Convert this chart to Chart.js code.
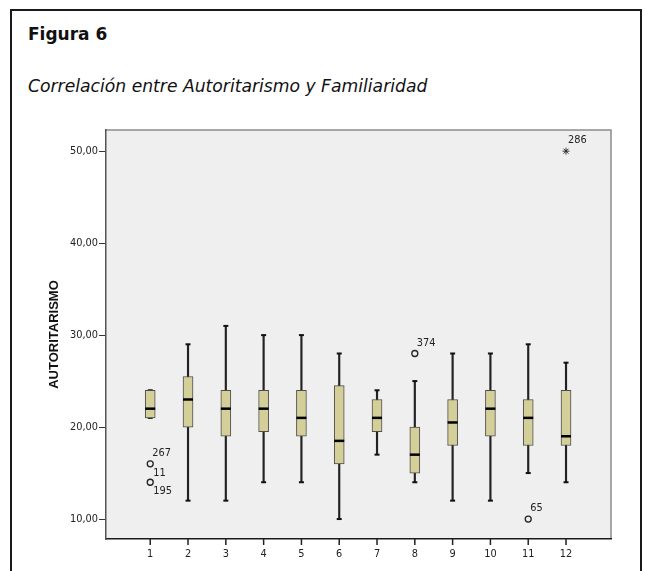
<!DOCTYPE html>
<html lang="es">
<head>
  <meta charset="UTF-8">
  <title>Figura 6</title>
  <script src="https://cdn.jsdelivr.net/npm/chart.js"></script>
  <style>
    body {
      margin: 0;
      width: 645px;
      height: 571px;
      overflow: hidden;
      background: #fff;
      position: relative;
    }
    #frame {
      position: absolute;
      left: 10px;
      top: 9px;
      width: 632px;
      height: 700px;
      box-sizing: border-box;
      border: 2px solid #1a1a1a;
    }
    #fig {
      position: absolute;
      left: 28px;
      top: 26px;
      font: bold 17px "DejaVu Sans", sans-serif;
      line-height: 1;
      color: #111;
    }
    #sub {
      position: absolute;
      left: 28px;
      top: 78px;
      font: italic 17.2px "DejaVu Sans", sans-serif;
      line-height: 1;
      color: #111;
    }
    #wrap {
      position: absolute;
      left: 0;
      top: 0;
      width: 645px;
      height: 571px;
    }
  </style>
</head>
<body>
  <div id="frame"></div>
  <div id="fig">Figura 6</div>
  <div id="sub">Correlación entre Autoritarismo y Familiaridad</div>
  <div id="wrap"><canvas id="box"></canvas></div>

  <script>
    // grupos 1..12 (familiaridad)
    const categories = [1, 2, 3, 4, 5, 6, 7, 8, 9, 10, 11, 12];
    const whiskerLow  = [21, 12, 12, 14, 14, 10, 17, 14, 12, 12, 15, 14];
    const q1          = [21, 20, 19, 19.5, 19, 16, 19.5, 15, 18, 19, 18, 18];
    const medians     = [22, 23, 22, 22, 21, 18.5, 21, 17, 20.5, 22, 21, 19];
    const q3          = [24, 25.5, 24, 24, 24, 24.5, 23, 20, 23, 24, 23, 24];
    const whiskerHigh = [24, 29, 31, 30, 30, 28, 24, 25, 28, 28, 29, 27];

    // atípicos (círculo) y extremos (estrella)
    const outlierX = [1, 1, 8, 11];
    const outlierY = [16, 14, 28, 10];
    const extremeX = [12];
    const extremeY = [50];

    // etiquetas de casos
    const caseX     = [1, 1, 1, 8, 11, 12];
    const caseY     = [16, 16, 14, 28, 10, 50];
    const caseText  = ['267', '11', '195', '374', '65', '286'];
    const caseAbove = [true, false, false, true, true, true];

    const yTicks = [10, 20, 30, 40, 50];

    const tickFont = { family: '"DejaVu Sans", sans-serif', size: 9.8 };

    const pairs = (lo, hi) => categories.map((c, i) => ({ x: c, y: [lo[i], hi[i]] }));
    const pts = (xs, ys) => xs.map((x, i) => ({ x: x, y: ys[i] }));

    const plotBg = {
      id: 'plotBg',
      beforeDraw(chart) {
        const a = chart.chartArea, ctx = chart.ctx;
        ctx.save();
        ctx.fillStyle = '#efefef';
        ctx.fillRect(a.left, a.top, a.right - a.left, a.bottom - a.top);
        ctx.strokeStyle = '#8c8c8c';
        ctx.lineWidth = 1.5;
        ctx.beginPath();
        ctx.moveTo(a.left, a.top);
        ctx.lineTo(a.right, a.top);
        ctx.lineTo(a.right, a.bottom);
        ctx.stroke();
        ctx.restore();
      },
      afterDraw(chart) {
        // marcas del eje X en cada categoría
        const x = chart.scales.x, a = chart.chartArea, ctx = chart.ctx;
        ctx.save();
        ctx.strokeStyle = '#222';
        ctx.lineWidth = 1.5;
        ctx.beginPath();
        categories.forEach(c => {
          const px = x.getPixelForValue(c);
          ctx.moveTo(px, a.bottom);
          ctx.lineTo(px, a.bottom + 6);
        });
        ctx.stroke();
        ctx.restore();
      }
    };

    const caseLabels = {
      id: 'caseLabels',
      afterDatasetsDraw(chart) {
        const x = chart.scales.x, y = chart.scales.y, ctx = chart.ctx;
        ctx.save();
        ctx.font = '9.8px "DejaVu Sans", sans-serif';
        ctx.fillStyle = '#222';
        ctx.textBaseline = 'middle';
        ctx.textAlign = 'left';
        caseText.forEach((t, i) => {
          const px = x.getPixelForValue(caseX[i]);
          const py = y.getPixelForValue(caseY[i]);
          if (caseAbove[i]) ctx.fillText(t, px + 2, py - 10.5);
          else ctx.fillText(t, px + 3, py + 9.5);
        });
        ctx.restore();
      }
    };

    new Chart(document.getElementById('box'), {
      type: 'bar',
      data: {
        datasets: [
          {
            type: 'scatter',
            data: categories.map((c, i) => ({ x: c, y: medians[i] })),
            pointStyle: 'line',
            pointRadius: 5,
            borderColor: '#000',
            borderWidth: 2.5,
            order: 0
          },
          {
            type: 'scatter',
            data: pts(outlierX, outlierY),
            pointStyle: 'circle',
            pointRadius: 3,
            backgroundColor: 'rgba(0,0,0,0)',
            borderColor: '#222',
            borderWidth: 1.3,
            order: 0
          },
          {
            type: 'scatter',
            data: pts(extremeX, extremeY),
            pointStyle: 'star',
            pointRadius: 3.5,
            borderColor: '#222',
            borderWidth: 0.9,
            order: 0
          },
          {
            data: pairs(q1, q3),
            backgroundColor: '#d4cf99',
            borderColor: '#4d4d4d',
            borderWidth: 1,
            borderSkipped: false,
            barThickness: 10,
            grouped: false,
            order: 1
          },
          {
            type: 'scatter',
            data: categories.map((c, i) => ({ x: c, y: whiskerLow[i] }))
              .concat(categories.map((c, i) => ({ x: c, y: whiskerHigh[i] }))),
            pointStyle: 'line',
            pointRadius: 2.5,
            borderColor: '#111',
            borderWidth: 2,
            order: 2
          },
          {
            data: pairs(whiskerLow, whiskerHigh),
            backgroundColor: '#222',
            borderWidth: 0,
            barThickness: 1.5,
            grouped: false,
            order: 3
          }
        ]
      },
      options: {
        responsive: true,
        maintainAspectRatio: false,
        animation: false,
        layout: { padding: { left: 0, top: 130, right: 34, bottom: 0 } },
        plugins: {
          legend: { display: false },
          tooltip: { enabled: false }
        },
        scales: {
          x: {
            type: 'linear',
            min: -0.17,
            max: 13.19,
            offset: false,
            afterBuildTicks: s => { s.ticks = categories.map(v => ({ value: v })); },
            afterFit: s => { s.height = 32; },
            grid: { display: false, tickLength: 6 },
            border: { display: true, color: '#1a1a1a', width: 1.5 },
            ticks: { font: tickFont, color: '#222', padding: 4, maxRotation: 0, callback: v => String(v) }
          },
          y: {
            type: 'linear',
            min: 7.83,
            max: 52.3,
            afterBuildTicks: s => { s.ticks = yTicks.map(v => ({ value: v })); },
            afterFit: s => { s.width = 106; },
            grid: { display: true, drawOnChartArea: false, color: '#333', tickLength: 7 },
            border: { display: true, color: '#555', width: 1.5 },
            ticks: {
              font: tickFont,
              color: '#222',
              padding: 1,
              callback: v => v.toFixed(2).replace('.', ',')
            },
            title: {
              display: true,
              text: 'AUTORITARISMO',
              color: '#111',
              font: { family: '"Liberation Sans Narrow", "Liberation Sans", sans-serif', size: 13, weight: 'bold' },
              padding: { top: 47, bottom: 0 }
            }
          }
        }
      },
      plugins: [plotBg, caseLabels]
    });
  </script>
</body>
</html>
